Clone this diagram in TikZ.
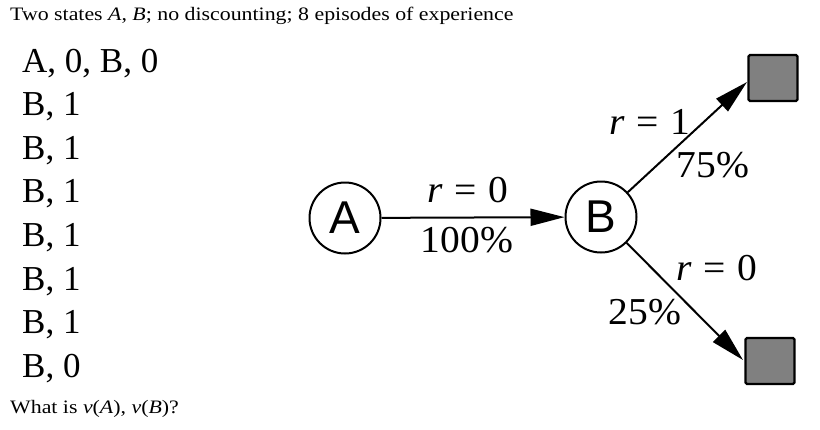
\documentclass[tikz,border=0pt]{standalone}
\usepackage{fontspec}
\setmainfont{Liberation Serif}
\newfontfamily\helv{Liberation Sans}
\newfontfamily\smallfont[FakeStretch=1.15]{Liberation Serif}
\newfontfamily\labfont[FakeStretch=1.04]{Liberation Serif}
\newcommand{\eqsp}{\hspace{0.3em}=\hspace{0.3em}}
\usetikzlibrary{arrows.meta}
\begin{document}
\begin{tikzpicture}[x=1pt,y=-1pt,
  small/.style={font=\smallfont\fontsize{19}{21}\selectfont, inner sep=0pt, anchor=base west},
  epis/.style={font=\fontsize{35}{37}\selectfont, inner sep=0pt, anchor=base west},
  state/.style={circle, draw, line width=2pt, minimum size=71pt, inner sep=0pt, font=\helv\fontsize{46}{48}\selectfont},
  term/.style={rectangle, draw, line width=2.2pt, fill=black!50, rounded corners=1.5pt, minimum width=49pt, minimum height=46pt, inner sep=0pt},
  lab/.style={font=\labfont\fontsize{38}{40}\selectfont, inner sep=0pt},
  arr/.style={line width=2pt, -{Triangle[length=34pt,width=17pt]}}
]
\useasboundingbox (0,0) rectangle (820,429);
\node[small] (title) at (10,20) {Two states \textit{A}, \textit{B}; no discounting; 8 episodes of experience};
\node[epis] (e1) at (22,72) {A, 0, B, 0};
\node[epis] (e2) at (22,115.6) {B, 1};
\node[epis] (e3) at (22,159.2) {B, 1};
\node[epis] (e4) at (22,202.8) {B, 1};
\node[epis] (e5) at (22,246.4) {B, 1};
\node[epis] (e6) at (22,290) {B, 1};
\node[epis] (e7) at (22,333.6) {B, 1};
\node[epis] (e8) at (22,377.2) {B, 0};
\node[small] (q) at (10,413) {What is \textit{v}(\textit{A}), \textit{v}(\textit{B})?};

\node[state] (A) at (345,218) {A};
\node[state] (B) at (601,217) {B};
\node[term] (T1) at (773,78) {};
\node[term] (T2) at (770,361) {};
\coordinate (t1) at (747,82);
\coordinate (t2) at (743,360);

\draw[arr] (A) -- (B);
\draw[arr] (B) -- (t1);
\draw[arr] (B) -- (t2);

\node[lab] (l1) at (468,190) {\textit{r}\eqsp0};
\node[lab] (l2) at (467,240) {100\%};
\node[lab] (l3) at (650,122) {\textit{r}\eqsp1};
\node[lab] (l4) at (713,165) {75\%};
\node[lab] (l5) at (717,268) {\textit{r}\eqsp0};
\node[lab] (l6) at (645,312) {25\%};
\end{tikzpicture}
\end{document}
